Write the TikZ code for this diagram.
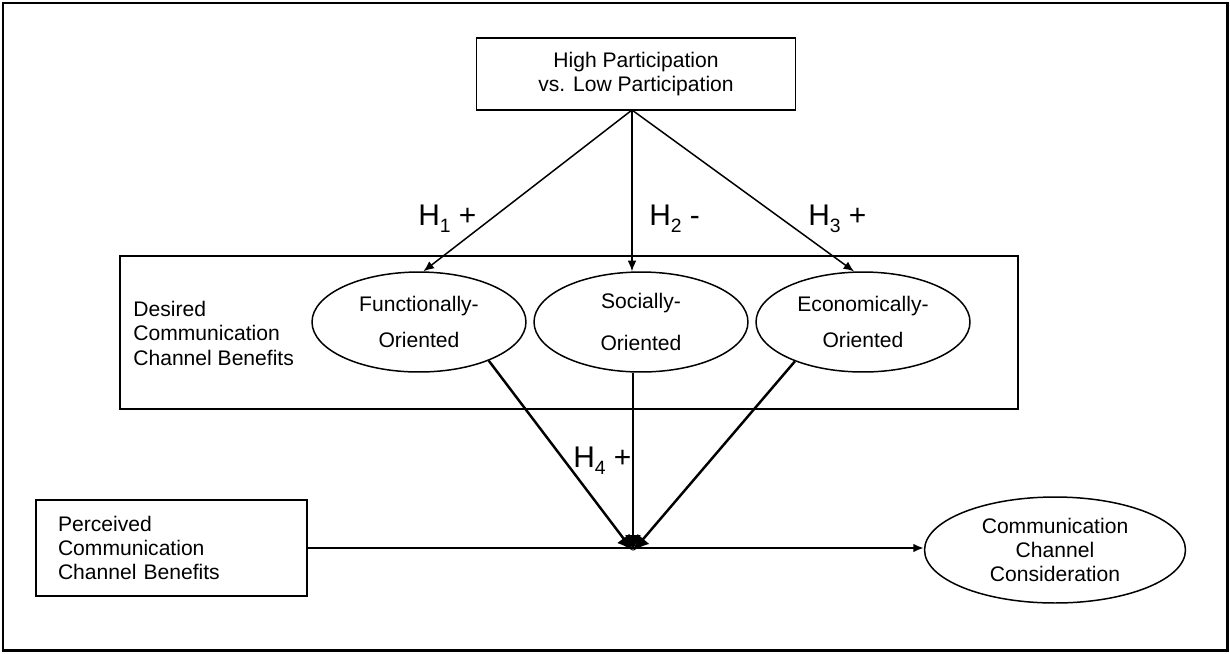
\documentclass[tikz,border=0pt]{standalone}
\usepackage{fontspec}
\setmainfont{Liberation Sans}
\usetikzlibrary{arrows.meta,shapes.geometric}

\newcommand{\hsub}[1]{\raisebox{-4pt}{\fontsize{11}{11}\selectfont #1}}

\begin{document}
\begin{tikzpicture}[x=0.02cm,y=-0.02cm,>={Latex[length=6pt,width=5pt]},
  box/.style={draw,line width=0.85pt},
  oval/.style={draw,ellipse,line width=0.85pt,inner sep=0pt,align=center},
  txt/.style={font=\fontsize{12}{13.8}\selectfont},
  hyp/.style={inner sep=0pt,anchor=base west,font=\fontsize{17}{20}\selectfont}]

\useasboundingbox (0,0) rectangle (1230,653);
\draw [line width=1.7pt] (3,3) rectangle (1227,650);

\node [box,txt,align=center,minimum width=6.38cm,minimum height=1.44cm] (part) at (636,74) {High Participation\\vs. Low Participation};
\coordinate (apex) at (632,110);

\draw [line width=0.85pt] (120,256) rectangle (1018,409);
\node [txt,inner sep=0pt,anchor=north west,align=left] (desired) at (133,301) {Desired\\Communication\\Channel Benefits};

\node [oval,txt,minimum width=4.28cm,minimum height=2cm] (func) at (419,322) {Functionally-\\[7pt]Oriented};
\node [oval,txt,minimum width=4.28cm,minimum height=2cm] (soc) at (641,322) {Socially-\\[10pt]Oriented};
\node [oval,txt,minimum width=4.28cm,minimum height=2cm] (econ) at (863,322) {Economically-\\[7pt]Oriented};

\node [box,txt,align=left,inner xsep=0.44cm,inner ysep=0pt,text width=4.54cm,minimum height=1.92cm] (perc) at (171.5,548) {Perceived\\Communication\\Channel Benefits};
\node [oval,txt,minimum width=5.22cm,minimum height=2.12cm] (cons) at (1055,550) {Communication\\Channel\\Consideration};

\coordinate (junc) at (633,551);

\node [hyp] (h1) at (418,225) {H\hsub{1} +};
\node [hyp] (h2) at (649,225) {H\hsub{2} -};
\node [hyp] (h3) at (808,225) {H\hsub{3} +};
\node [hyp] (h4) at (573,467) {H\hsub{4} +};

% participation to the three benefits
\foreach \t in {func.85, {apex |- soc.north}, econ.100}
    \draw [->,line width=0.85pt] (apex) -- (\t);

% benefits meet at the junction
\foreach \s in {func.-29, {junc |- soc.south}, econ.-150}
    \draw [-{Latex[length=9pt,width=9pt]},line width=1.4pt] (\s) -- (junc);

\draw [->,line width=1.1pt] (perc.east) -- (perc.east -| cons.west);

\end{tikzpicture}
\end{document}
